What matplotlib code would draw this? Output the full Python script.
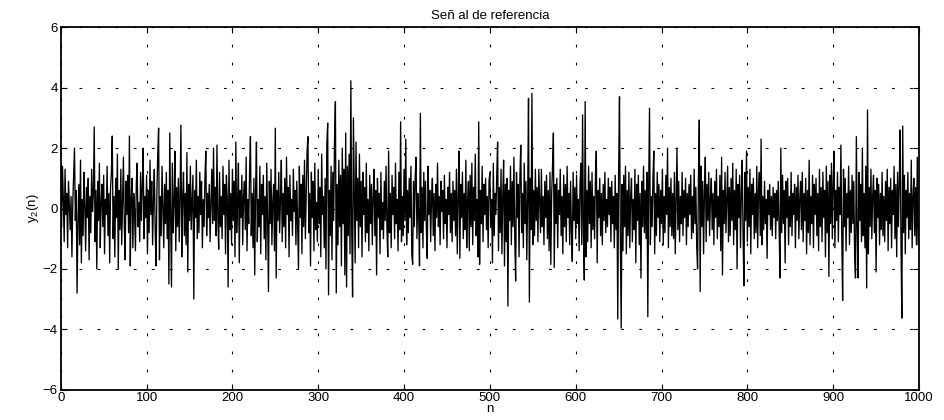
import numpy as np
import matplotlib
matplotlib.use("Agg")
import matplotlib.pyplot as plt

plt.rcParams['font.family'] = ['Liberation Sans', 'DejaVu Sans']
plt.rcParams['mathtext.fontset'] = 'custom'
plt.rcParams['mathtext.rm'] = 'Liberation Sans'
plt.rcParams['mathtext.it'] = 'Liberation Sans'
plt.rcParams['lines.scale_dashes'] = False

title = "Señ al de referencia"
xlabel = "n"
ylabel = "y$_2$(n)"
xticks = [0, 100, 200, 300, 400, 500, 600, 700, 800, 900, 1000]
yticks = [-6, -4, -2, 0, 2, 4, 6]

y2 = [
    1.5, -0.6, 1.4, 0.3, -1.1, 1.3, -0.2, 0.5, -1.3, 0.9, 0.1, -0.7, 0.4, -1.6, 0.2, 1.1, 2.0, -0.4, 0.6, -2.8,
    -0.5, 0.8, -1.2, 1.6, -1.8, 0.3, -0.9, 1.2, 0.1, -1.4, 0.7, -0.3, 1.0, -1.7, 0.4, -0.8, 1.3, -0.1, 0.5, 2.7,
    -1.1, 0.6, -2.0, 0.9, -0.4, 1.5, -1.3, 0.2, 0.8, -0.6, 1.1, -1.5, 0.3, -0.2, 1.4, -0.9, 0.5, -1.8, 0.7, 1.2,
    2.4, -1.0, 0.4, -1.6, 1.0, -0.3, 1.8, -2.0, 0.6, -0.7, 1.3, -1.2, 0.2, 1.7, -0.5, -1.7, 0.9, -0.2, 1.1, -0.8,
    2.4, -1.9, 0.3, 1.0, -1.3, 0.5, -0.1, -1.4, 0.8, 1.5, -0.6, 0.2, -1.1, 1.2, -0.4, 0.7, 2.0, -1.0, 0.4, -0.3,
    1.1, -1.5, 0.6, -0.8, 1.6, -0.2, 0.9, -1.2, 0.3, 1.3, -0.7, -1.9, 0.5, 1.8, 2.66, -1.7, 0.4, -0.9, 1.4, 0.1,
    -1.3, 0.8, -0.5, 1.2, -1.0, 0.6, -2.5, 2.5, -0.3, -2.6, 1.5, -0.8, 0.2, 1.9, -1.4, 0.7, -0.6, 1.0, -1.1, 0.4,
    2.76, -1.6, 0.3, 1.2, -0.9, 0.5, -1.2, 1.85, -2.1, 0.8, -0.4, 1.4, -0.7, 0.2, 1.1, -3.0, 0.6, -0.3, 1.6, -1.0,
    0.4, -0.8, 1.2, -0.2, 0.9, -1.3, 0.3, -0.6, 1.0, 1.9, -0.9, 0.5, -0.3, 0.8, -1.1, 0.2, 1.3, -0.5, 2.0, -0.4,
    0.7, -0.9, 2.1, -0.3, -1.35, 1.2, -0.6, 0.4, -1.0, 1.4, -0.2, 0.8, -1.5, 1.1, 0.3, -2.6, 1.6, -0.7, 0.5, -1.2,
    1.3, -0.4, 0.9, -1.6, 2.2, -0.8, 0.2, 1.5, -1.8, 0.6, -0.3, 1.1, -1.2, 0.4, 0.9, -0.7, 1.7, -1.4, 0.3, -0.5,
    1.2, 2.38, -0.9, 0.5, -1.3, 1.0, -2.2, 0.6, 2.2, -1.1, 0.3, -0.6, 1.4, -1.5, 0.8, -0.2, 1.1, -1.0, 0.4, -1.7,
    1.5, -0.3, -2.75, 0.9, -0.5, 1.3, -1.2, 0.2, 0.8, -1.4, 2.66, -2.3, 0.6, -0.4, 1.2, -0.8, 0.3, 1.6, -1.1, 0.5,
    -0.6, 1.0, -1.3, 1.7, -0.2, 0.7, -1.6, 1.1, -0.4, 0.3, -0.9, 1.3, -0.1, 0.6, -1.2, 0.9, -0.5, -2.0, 1.4, -0.3,
    0.8, -1.5, 1.1, -0.6, 1.6, -1.0, 0.4, 1.9, 2.38, -0.8, 0.5, -1.9, 1.2, -0.3, 0.9, -1.4, 1.5, -0.7, 0.2, -1.1,
    1.3, -0.5, 0.7, -1.6, 1.8, -0.2, 0.4, -1.3, 1.0, -2.0, 2.1, 2.83, -2.86, 0.6, -0.9, 1.4, -1.7, 1.2, -0.4, 2.3,
    3.54, -2.8, 0.8, -1.2, 1.6, -0.6, 1.1, -1.9, 2.0, -0.5, 1.3, -2.2, 2.5, -2.6, 1.4, -0.9, 1.8, -1.5, 4.23, -0.7,
    -2.93, 3.0, 0.5, -1.8, 2.2, -0.4, 1.0, -1.3, 1.8, -0.6, 0.9, -1.6, 1.2, -0.2, 0.7, -1.1, 1.5, -0.8, 0.3, -1.4,
    1.1, -0.5, 0.8, -1.2, 0.4, 1.3, -0.9, 0.6, -2.2, 1.0, -0.3, 0.5, -1.5, 1.2, -0.7, 0.2, -1.0, 0.9, -0.4, 1.4,
    -0.6, -1.6, 1.9, -0.8, 0.5, -1.3, 1.1, -0.2, 0.7, -1.0, 1.5, -0.5, 0.3, -1.4, 1.2, -0.7, 2.87, -1.1, 0.4, -0.9,
    1.3, -0.4, 2.3, -1.2, 0.6, -0.8, 1.0, -0.3, 1.4, -1.5, -1.85, 0.9, -0.6, 1.1, 1.7, -1.0, 0.5, -0.2, -1.9, 3.15,
    -0.8, 0.7, -1.3, 1.2, -0.4, 0.9, -0.7, -1.65, 1.4, -0.2, 0.6, -1.1, 0.3, 1.0, -0.9, 0.5, -1.4, 0.8, -0.3, 1.5,
    -0.6, 0.4, -1.2, 0.9, -0.1, 0.6, -1.0, 1.1, -0.5, 0.3, -1.3, 0.7, -0.2, 1.2, -0.8, 0.5, -1.1, 0.9, -0.4, 0.6,
    -0.9, 1.3, -1.5, 0.4, 1.9, -1.65, 0.8, -0.3, 1.2, -1.0, 0.5, -0.7, 1.6, -1.3, 0.2, 0.9, -1.4, 1.1, -0.6, 1.5,
    -1.2, 0.7, -0.4, 1.8, -0.9, 0.3, -1.6, 2.87, -1.85, 0.6, -0.5, 1.4, -1.1, 0.8, -0.2, 1.0, -0.7, 0.4, -1.3, 0.9,
    1.2, -0.6, 0.3, -1.8, 1.5, -0.9, 0.5, -0.2, 1.1, 2.2, -1.4, 0.7, -0.8, 1.3, -1.5, 0.4, 1.6, -1.9, 0.8, -1.1,
    1.0, -3.23, 0.6, -0.4, 1.4, -1.2, 0.9, -0.6, 1.7, -1.0, -2.4, 1.2, -0.3, 0.8, -1.6, 1.1, 2.1, -0.8, 0.5, -1.3,
    1.5, -0.5, 0.9, -1.7, 0.3, 3.65, -3.1, 1.0, -0.7, 3.81, -1.2, 0.6, -0.9, 1.3, -0.4, 0.7, -1.1, 1.3, 0.2, -0.8,
    1.3, -0.6, 0.4, -1.2, 0.9, -0.3, 1.1, -1.0, 0.6, -1.4, 1.2, -1.85, 0.5, 1.4, 2.5, -1.95, 0.8, -0.5, 1.0, -1.3,
    0.6, -0.2, 1.3, -0.9, 0.4, -1.5, 1.1, -0.6, 0.8, -1.1, 1.4, -0.3, 0.5, -1.2, 0.9, -0.7, -1.75, 1.2, -0.4, 0.7,
    -1.0, 1.1, -0.5, 0.3, -1.4, 0.8, 1.5, -1.2, 3.1, -0.8, -2.37, 3.54, -1.6, 0.6, -1.1, 1.4, -0.5, 0.9, -1.3, 1.2,
    -0.7, 0.4, -1.0, 1.1, 1.9, -1.8, 0.6, -0.3, 1.0, -0.9, 0.5, -1.2, 0.8, -0.4, 1.2, -0.8, 0.3, -0.6, 1.0, -0.2,
    0.7, -1.1, 0.9, -0.5, 0.4, -1.3, 1.1, -0.7, 0.5, -3.66, 1.2, 3.7, -1.0, -3.96, 0.8, -1.4, 1.1, -0.6, 1.4, -1.5,
    0.6, -0.9, 1.2, -1.3, 0.4, 1.0, -1.1, 0.3, -0.7, 1.3, -1.8, 0.8, -0.4, 1.1, -1.2, 0.5, -2.3, 0.9, -0.6, 1.4,
    -0.8, 0.6, -1.0, 1.2, -3.58, 0.7, 3.32, -1.2, 0.4, -0.6, 1.0, 1.9, -1.5, 0.5, -0.9, 1.2, -0.3, 0.8, -1.1, 0.6,
    -0.5, 1.3, -1.2, 0.4, -0.8, 1.1, -0.2, 2.0, -1.3, 0.7, -0.6, 1.0, -0.9, 0.5, -1.0, 1.2, -1.5, 0.3, 2.0, -0.7,
    0.9, -1.1, 0.4, -0.5, 1.2, -0.9, 0.6, -0.3, 1.0, -1.2, 0.5, -0.6, 0.8, -0.2, 1.1, -1.0, 0.4, -0.8, 1.3, -0.5,
    0.7, -1.3, -2.0, 1.0, 2.93, -2.75, 1.4, -0.6, 0.9, -1.5, 0.5, 1.7, -1.1, 0.8, -0.4, 1.2, -0.9, 0.3, 1.0, -0.7,
    0.5, -1.2, 0.9, -0.3, 1.3, -1.0, 0.4, -0.6, 1.1, -1.4, 1.7, -2.2, 0.6, -0.5, 1.2, -0.8, 0.3, 1.4, -1.1, 0.7,
    -0.9, 1.0, -0.4, 1.5, -1.2, 0.6, -0.7, 1.3, -2.0, 0.8, -0.3, 1.1, -1.3, 0.5, 1.6, -0.9, -2.56, 1.2, -0.4, 1.9,
    -1.1, 0.7, -0.6, 1.3, -1.5, 0.8, -0.2, 1.0, -1.0, 0.5, -0.8, 1.4, -1.3, 0.6, 1.2, -0.9, 2.3, -1.2, 0.4, -0.7,
    0.9, -0.5, 0.3, -1.65, 0.6, -0.2, 0.8, -0.7, 0.4, -0.9, 0.7, -0.3, 0.5, -1.0, 0.6, -0.4, 0.9, -0.6, -2.3, 2.0,
    -0.8, 1.1, -0.5, 0.6, -1.8, 0.9, -0.3, 1.0, -1.2, 0.4, -0.6, 1.2, -0.9, 0.5, -0.2, 0.8, -1.3, 0.7, -0.4, 1.1,
    -1.0, 0.3, 0.9, -0.7, 1.2, -1.1, 0.5, -0.4, 1.0, -1.5, 0.6, -0.8, 1.6, -1.2, 0.4, -0.5, 1.1, -1.3, 0.8, -0.2,
    1.0, -0.9, 0.5, -1.4, 1.3, -0.6, 0.7, -1.1, 1.2, -0.3, 0.6, -1.6, 1.4, -0.8, 0.9, -2.25, 1.1, -0.5, 1.5, -1.0,
    0.8, 1.9, -1.3, 0.6, -0.4, 1.2, -1.1, 0.7, -0.2, 2.1, -0.9, -3.05, 1.3, -0.6, 1.0, -1.4, 0.5, -0.3, 1.4, -1.2,
    0.6, -0.8, 1.1, -0.5, 0.9, -1.6, -2.3, 2.38, -0.7, -2.3, 1.2, -0.4, 0.8, -1.1, 2.0, -0.9, 0.5, -1.3, 1.4, -2.63,
    3.26, -1.5, 0.7, -0.6, 1.3, -1.0, 0.4, 1.1, -0.8, 0.6, -2.1, 1.0, -0.3, 0.8, -1.2, 0.5, -0.7, 1.2, -0.9, 0.4,
    -1.1, 0.9, -0.4, 1.3, -1.4, 0.7, -0.5, 1.0, -1.3, 0.6, -0.2, 1.4, -1.0, 0.8, -1.6, 1.2, -0.6, 0.9, 2.6, -1.2,
    -3.63, 2.73, -0.8, 1.1, -1.5, 0.6, -0.3, 1.2, -1.0, 0.5, -0.7, 1.6, -1.3, 0.4, 1.0, -0.9, 0.7, -1.2, 1.7, -1.2,
]
n = np.arange(len(y2))

fig = plt.figure(figsize=(9.45, 4.2), dpi=100)
ax = fig.add_axes([0.0643, 0.0721, 0.9082, 0.8629])
ax.plot(n, y2, color='black', linewidth=0.95)

ax.set_xlim(0, 1000)
ax.set_ylim(-6, 6)
ax.set_xticks(xticks)
ax.set_yticks(yticks)
ax.grid(True, color='black', linestyle=(0, (2, 11)), linewidth=0.8)
ax.tick_params(direction='in', length=4, width=0.8, top=True, right=True,
               labelsize=9.5, pad=2, colors='black')
for s in ax.spines.values():
    s.set_linewidth(1.3)
    s.set_color('black')

ax.set_title(title, fontsize=9.5, pad=6)
ax.set_xlabel(xlabel, fontsize=9.5, labelpad=-1)
ax.set_ylabel(ylabel, fontsize=9.5, labelpad=1)

fig.savefig("out.png", dpi=100)
